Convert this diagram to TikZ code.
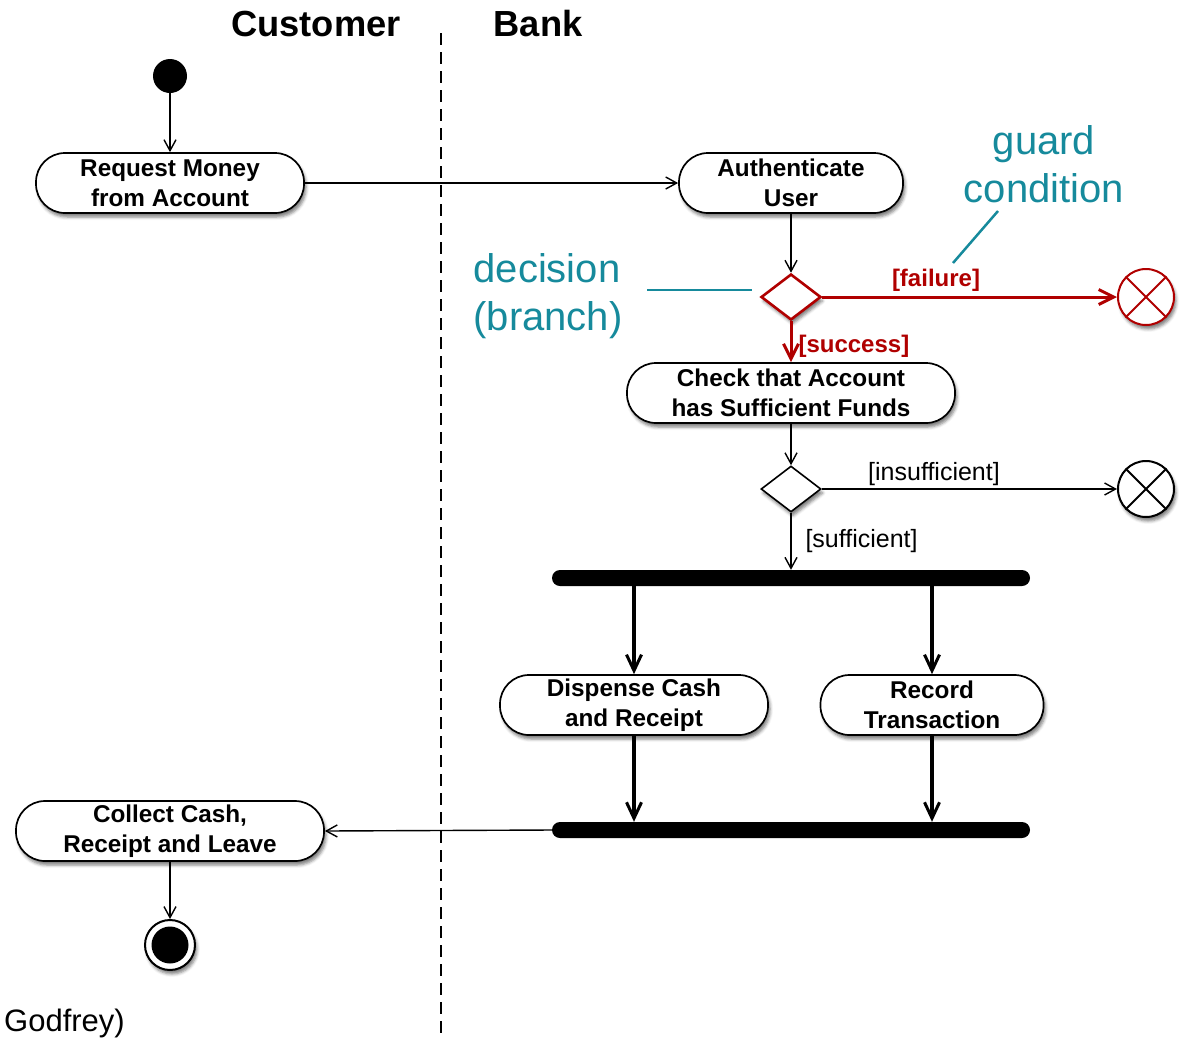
\documentclass[tikz,border=0pt]{standalone}
\usepackage{fontspec}
\setmainfont{Liberation Sans}
\usetikzlibrary{arrows.meta,shapes.geometric,shadows.blur}
\definecolor{annotcol}{RGB}{22,138,156}
\definecolor{guardred}{RGB}{176,0,0}
\begin{document}
\begin{tikzpicture}[x=1pt,y=-1pt,
  soft/.style={blur shadow={shadow xshift=2pt,shadow yshift=-4pt,shadow blur radius=3pt,shadow opacity=50}},
  activity/.style={draw,line width=1.7pt,fill=white,rectangle,rounded corners=29pt,
    minimum height=60pt,inner sep=0pt,align=center,soft,
    font=\bfseries\fontsize{24.3}{30}\selectfont},
  flow/.style={line width=1.4pt,-{Straight Barb[length=11pt,width=12pt,line width=1.4pt]}},
  heavyflow/.style={line width=3.3pt,-{Straight Barb[length=16pt,width=15pt,line width=3pt]}},
  redflow/.style={guardred,line width=3pt,-{Straight Barb[length=15pt,width=15pt,line width=3pt]}},
  decision/.style={diamond,draw,fill=white,minimum width=60pt,minimum height=46pt,inner sep=0pt,soft},
  flowfinal/.style={circle,draw,line width=2pt,fill=white,minimum size=56pt,inner sep=0pt,soft},
  bar/.style={fill=black,rectangle,rounded corners=8pt,minimum width=478pt,minimum height=16pt,inner sep=0pt},
  title/.style={font=\bfseries\fontsize{36.3}{40}\selectfont,anchor=base},
  guardtxt/.style={font=\fontsize{25}{28}\selectfont},
  redguard/.style={text=guardred,font=\bfseries\fontsize{24}{28}\selectfont},
  annot/.style={text=annotcol,font=\fontsize{40}{48}\selectfont,align=center},
  pointer/.style={draw=annotcol,line width=2.5pt}]
\useasboundingbox (0,0) rectangle (1186,1037);

% swimlane headings and divider
\node[title] (laneC) at (316,36) {Customer};
\node[title] (laneB) at (538,36) {Bank};
\coordinate (divtop) at (441,33);
\coordinate (divbot) at (441,1037);
\draw[line width=1.4pt,dash pattern=on 12pt off 7pt] (divtop) -- (divbot);

% nodes
\node[circle,fill=black,minimum size=34pt,inner sep=0pt] (start) at (170,76) {};
\node[activity,minimum width=268pt] (request) at (170,183) {Request Money\\from Account};
\node[activity,minimum width=224pt] (auth) at (791,183) {Authenticate\\User};
\node[decision,draw=guardred,line width=2.6pt] (dec1) at (791,297) {};
\node[flowfinal,draw=guardred] (ff1) at (1146,297) {};
\draw[guardred,line width=2pt] (ff1.45) -- (ff1.225) (ff1.135) -- (ff1.-45);
\node[activity,minimum width=328pt] (check) at (791,393) {Check that Account\\has Sufficient Funds};
\node[decision,line width=1.6pt] (dec2) at (791,489) {};
\node[flowfinal] (ff2) at (1146,489) {};
\draw[line width=2pt] (ff2.45) -- (ff2.225) (ff2.135) -- (ff2.-45);
\node[bar] (fork) at (791,578) {};
\node[activity,minimum width=268pt] (dispense) at (634,705) {Dispense Cash\\and Receipt};
\node[activity,minimum width=223pt] (record) at (932,705) {Record\\Transaction};
\node[bar] (join) at (791,830) {};
\node[activity,minimum width=308pt] (collect) at (170,831) {Collect Cash,\\Receipt and Leave};
\node[circle,draw,line width=2pt,fill=white,minimum size=50pt,inner sep=0pt,soft] (end) at (170,945) {};
\node[circle,fill=black,minimum size=37pt,inner sep=0pt] (endcore) at (end) {};

% connectors
\draw[flow] (start) -- (request);
\draw[flow] (request) -- (auth);
\draw[flow] (auth) -- (dec1.north);
\draw[redflow] (dec1.east) -- (ff1.west);
\draw[redflow] (dec1.south) -- (check.north);
\draw[flow] (check) -- (dec2.north);
\draw[flow] (dec2.east) -- (ff2.west);
\draw[flow] (dec2.south) -- (fork.north);
\draw[heavyflow] (fork.south -| dispense) -- (dispense.north);
\draw[heavyflow] (fork.south -| record) -- (record.north);
\draw[heavyflow] (dispense.south) -- (join.north -| dispense);
\draw[heavyflow] (record.south) -- (join.north -| record);
\draw[flow] (join.west) -- (collect.east);
\draw[flow] (collect) -- (end);

% guard labels
\node[redguard] (lfail) at (936,280) {[failure]};
\node[redguard,anchor=west] (lsucc) at (795,346) {[success]};
\node[guardtxt] (linsuf) at (934,474) {[insufficient]};
\node[guardtxt,anchor=west] (lsuf) at (802,541) {[sufficient]};

% annotations
\node[annot] (guardnote) at (1044,164) {guard\\condition};
\coordinate (gp1) at (998,211);
\coordinate (gp2) at (953,263);
\draw[pointer] (gp1) -- (gp2);
\node[annot,align=left,anchor=west] (decnote) at (470,296) {decision\\(branch)};
\coordinate (dp1) at (647,290);
\coordinate (dp2) at (752,290);
\draw[pointer] (dp1) -- (dp2);

% credit line
\node[anchor=base west,font=\fontsize{31}{34}\selectfont,inner sep=0pt] (credit) at (4,1031) {Godfrey)};
\end{tikzpicture}
\end{document}
